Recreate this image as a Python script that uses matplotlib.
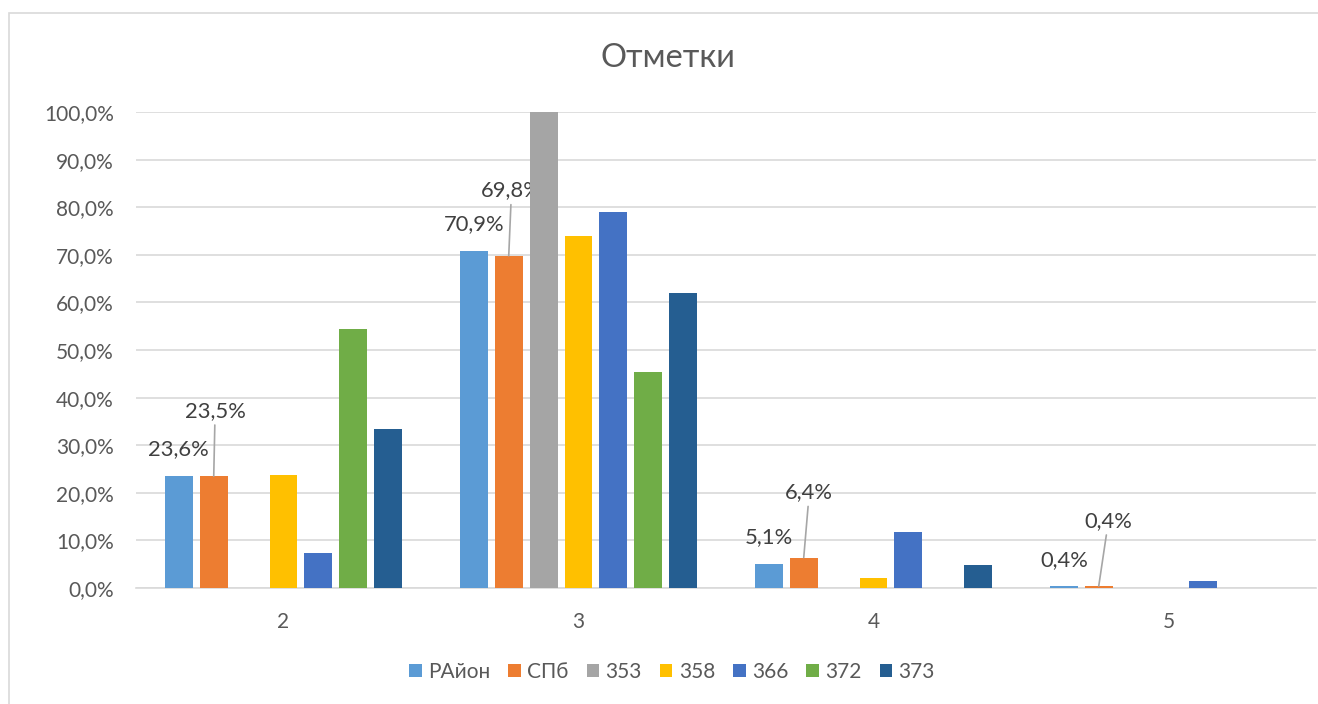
import matplotlib
matplotlib.use("Agg")
import matplotlib.pyplot as plt
import numpy as np
from matplotlib.patches import Rectangle
from matplotlib.ticker import FuncFormatter, MultipleLocator

plt.rcParams['font.family'] = ['Lato', 'Noto Sans', 'DejaVu Sans']

categories = ['2', '3', '4', '5']
series_names = ['РАйон', 'СПб', '353', '358', '366', '372', '373']
values = {
    'РАйон': [23.6, 70.9, 5.1, 0.4],
    'СПб':   [23.5, 69.8, 6.4, 0.4],
    '353':   [0.0, 100.0, 0.0, 0.0],
    '358':   [23.8, 73.9, 2.1, 0.0],
    '366':   [7.4, 79.0, 11.8, 1.5],
    '372':   [54.5, 45.4, 0.0, 0.0],
    '373':   [33.3, 61.9, 4.8, 0.0],
}
colors = ['#5B9BD5', '#ED7D31', '#A5A5A5', '#FFC000', '#4472C4', '#70AD47', '#255E91']
title = 'Отметки'

W, H = 1318, 704
fig = plt.figure(figsize=(W / 100, H / 100), dpi=100)
fig.patches.append(Rectangle((9 / W, -0.01), 1.1, (704 - 13) / H + 0.01, transform=fig.transFigure,
                             fill=False, edgecolor='#d9d9d9', linewidth=1.2))
ax = fig.add_axes([136 / W, (H - 588) / H, (1316 - 136) / W, (588 - 112) / H])

x = np.arange(len(categories))
step = 35 / 296
width = 28 / 296
n = len(series_names)
for i, (name, c) in enumerate(zip(series_names, colors)):
    pos = x + (i - (n - 1) / 2) * step
    vals = np.array(values[name]) / 100
    ax.bar(pos, vals, width=width, color=c, label=name, zorder=3)
    if name == 'РАйон':
        for px, v in zip(pos, vals):
            ax.annotate(f"{v*100:.1f}%".replace('.', ','), xy=(px, v), xytext=(0, 19),
                        textcoords='offset points', ha='center', va='center',
                        fontsize=15.8, color='#404040')
    elif name == 'СПб':
        dxs = [1, 2, 4, 7]
        for px, v, dx in zip(pos, vals, dxs):
            ax.annotate(f"{v*100:.1f}%".replace('.', ','), xy=(px, v), xytext=(dx, 47),
                        textcoords='offset points', ha='center', va='center',
                        fontsize=15.8, color='#404040',
                        arrowprops=dict(arrowstyle='-', color='#a6a6a6', lw=1.2,
                                        shrinkA=1, shrinkB=0))

ax.set_xlim(-0.5, len(categories) - 0.5)
ax.set_ylim(0, 1.0)
ax.yaxis.set_major_locator(MultipleLocator(0.1))
ax.yaxis.set_major_formatter(FuncFormatter(lambda v, p: f"{v*100:.1f}%".replace('.', ',')))
ax.set_xticks(x)
ax.set_xticklabels(categories)
ax.grid(axis='y', color='#d9d9d9', linewidth=1.2, zorder=0)
for s in ['top', 'right', 'left']:
    ax.spines[s].set_visible(False)
ax.spines['bottom'].set_color('#d9d9d9')
ax.spines['bottom'].set_linewidth(1.2)
ax.tick_params(axis='both', length=0, labelsize=15, colors='#595959')
ax.tick_params(axis='y', pad=16)
ax.tick_params(axis='x', pad=17)

fig.text(668 / W, 1 - 58 / H, title, ha='center', va='center', fontsize=23.5, color='#595959')

leg = fig.legend(loc='center', bbox_to_anchor=(672 / W, 1 - 672 / H), ncol=7, frameon=False,
                 fontsize=15, handlelength=0.6, handleheight=0.6, handletextpad=0.3,
                 columnspacing=0.87, labelcolor='#595959')

fig.savefig('out.png', dpi=100)
